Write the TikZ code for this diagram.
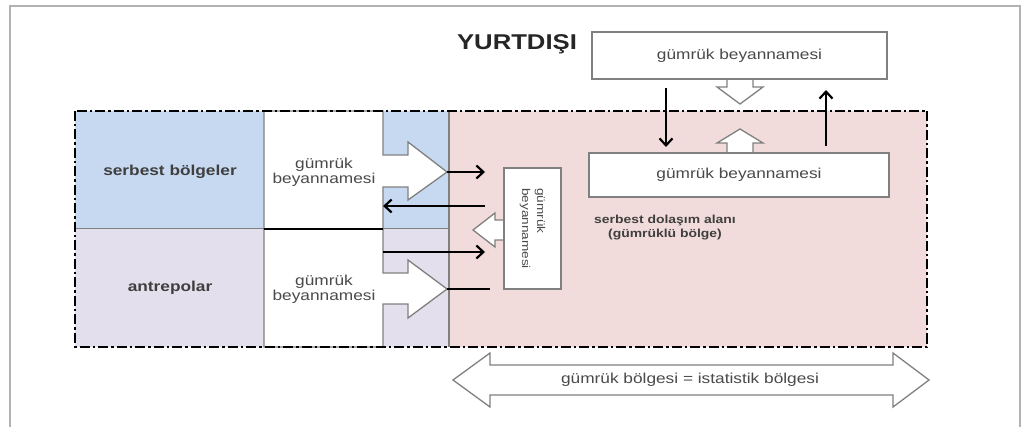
\documentclass[tikz,border=0pt]{standalone}
\usepackage{fontspec}
\setmainfont{Liberation Sans}[FakeStretch=1.2]
\usetikzlibrary{arrows.meta}
\definecolor{zoneblue}{HTML}{C6D9F1}
\definecolor{zonelilac}{HTML}{E4DFEC}
\definecolor{zonepink}{HTML}{F2DCDB}
\definecolor{boxline}{HTML}{808080}
\definecolor{txt}{HTML}{4A4A4A}

\tikzset{
  declbox/.style={draw=boxline,line width=1.3pt,fill=white,text=txt,font=\fontsize{14.4}{15}\selectfont,inner sep=0pt},
  decltext/.style={text=txt,align=center,font=\fontsize{14.4}{15}\selectfont,inner sep=0pt},
  zonelabel/.style={text=txt!85!black,font=\bfseries\fontsize{14.4}{17}\selectfont,inner sep=0pt},
  shapebox/.style={draw=boxline,line width=1.3pt,fill=white,line join=miter},
  flow/.style={line width=2.3pt,-{Straight Barb[length=7pt,width=13pt,line width=2.2pt]}},
}

\begin{document}
\begin{tikzpicture}[x=1pt,y=-1pt]
\useasboundingbox (0,0) rectangle (1022,427);
% frame
\draw[gray!60,line width=1.5pt] (10,427) -- (10,6) -- (1020,6) -- (1020,427);
% zones
\fill[zoneblue] (75,111) rectangle (449,229);
\fill[zonelilac] (75,229) rectangle (449,347);
\fill[zonepink] (449,111) rectangle (927,347);
\draw[boxline,line width=1pt] (75,229) -- (449,229);
\draw[boxline,line width=1.3pt] (449,111) -- (449,347);
% declaration boxes of the left zones
\draw[shapebox] (264,111) -- (383,111) -- (383,155) -- (408,155) -- (408,142) -- (447,172)
  -- (408,200) -- (408,187) -- (383,187) -- (383,229) -- (264,229) -- cycle;
\draw[shapebox] (264,229) -- (383,229) -- (383,273) -- (408,273) -- (408,260) -- (447,289)
  -- (408,318) -- (408,304) -- (383,304) -- (383,347) -- (264,347) -- cycle;
\draw[line width=1.2pt] (264,229) -- (383,229);
\node[decltext] (fzdecl) at (324,172.5) {gümrük\\beyannamesi};
\node[decltext] (wdecl) at (324,289.5) {gümrük\\beyannamesi};
\node[zonelabel] (fzlabel) at (170,172) {serbest bölgeler};
\node[zonelabel] (wlabel) at (170,288) {antrepolar};
% middle declaration
\draw[shapebox] (504,220) -- (495,220) -- (495,213) -- (473,230) -- (495,247) -- (495,240) -- (504,240) -- cycle;
\node[declbox,rotate=-90,minimum width=121pt,minimum height=57pt,align=left,
  font=\fontsize{11.3}{15}\selectfont] (midecl) at (532.5,228.5) {gümrük\\beyannamesi};
% arrows between zones
\coordinate (fztip) at (447,172);
\coordinate (fzout) at (485,172);
\coordinate (fzback) at (485,206);
\coordinate (fzin) at (383,206);
\coordinate (wstart) at (383,252);
\coordinate (wout) at (485,252);
\coordinate (wtip) at (447,289);
\coordinate (wend) at (490,289);
\draw[flow] (fztip) -- (fzout);
\draw[flow] (fzback) -- (fzin);
\draw[flow] (wstart) -- (wout);
\draw[line width=2.3pt] (wtip) -- (wend);
% abroad
\node[font=\bfseries\fontsize{21.4}{24}\selectfont,text=black!85] (abroad) at (517,44) {YURTDIŞI};
\draw[shapebox] (727,79) -- (727,87) -- (717,87) -- (740,104) -- (763,87) -- (753,87) -- (753,79) -- cycle;
\node[declbox,minimum width=295pt,minimum height=47pt] (extdecl) at (739.5,55.5) {gümrük beyannamesi};
\draw[shapebox] (727,153) -- (727,143) -- (717,143) -- (740,129) -- (763,143) -- (753,143) -- (753,153) -- cycle;
\node[declbox,minimum width=300pt,minimum height=44pt] (fcdecl) at (739,175) {gümrük beyannamesi};
\coordinate (inS) at (666,88);
\coordinate (inE) at (666,147);
\coordinate (outS) at (826,146);
\coordinate (outE) at (826,90);
\draw[flow] (inS) -- (inE);
\draw[flow] (outS) -- (outE);
\node[zonelabel,align=center,font=\bfseries\fontsize{11.6}{14}\selectfont] (fclabel) at (665,228) {serbest dolaşım alanı\\(gümrüklü bölge)};
% customs border
\draw[line width=2.3pt,dash pattern=on 10pt off 3pt on 2.5pt off 3pt] (75,111) rectangle (927,347);
% customs territory
\draw[shapebox] (453,380) -- (490,353) -- (490,365) -- (893,365) -- (893,353) -- (929,380)
  -- (893,407) -- (893,395) -- (490,395) -- (490,407) -- cycle;
\node[decltext] (territory) at (690,380) {gümrük bölgesi = istatistik bölgesi};
\end{tikzpicture}
\end{document}
